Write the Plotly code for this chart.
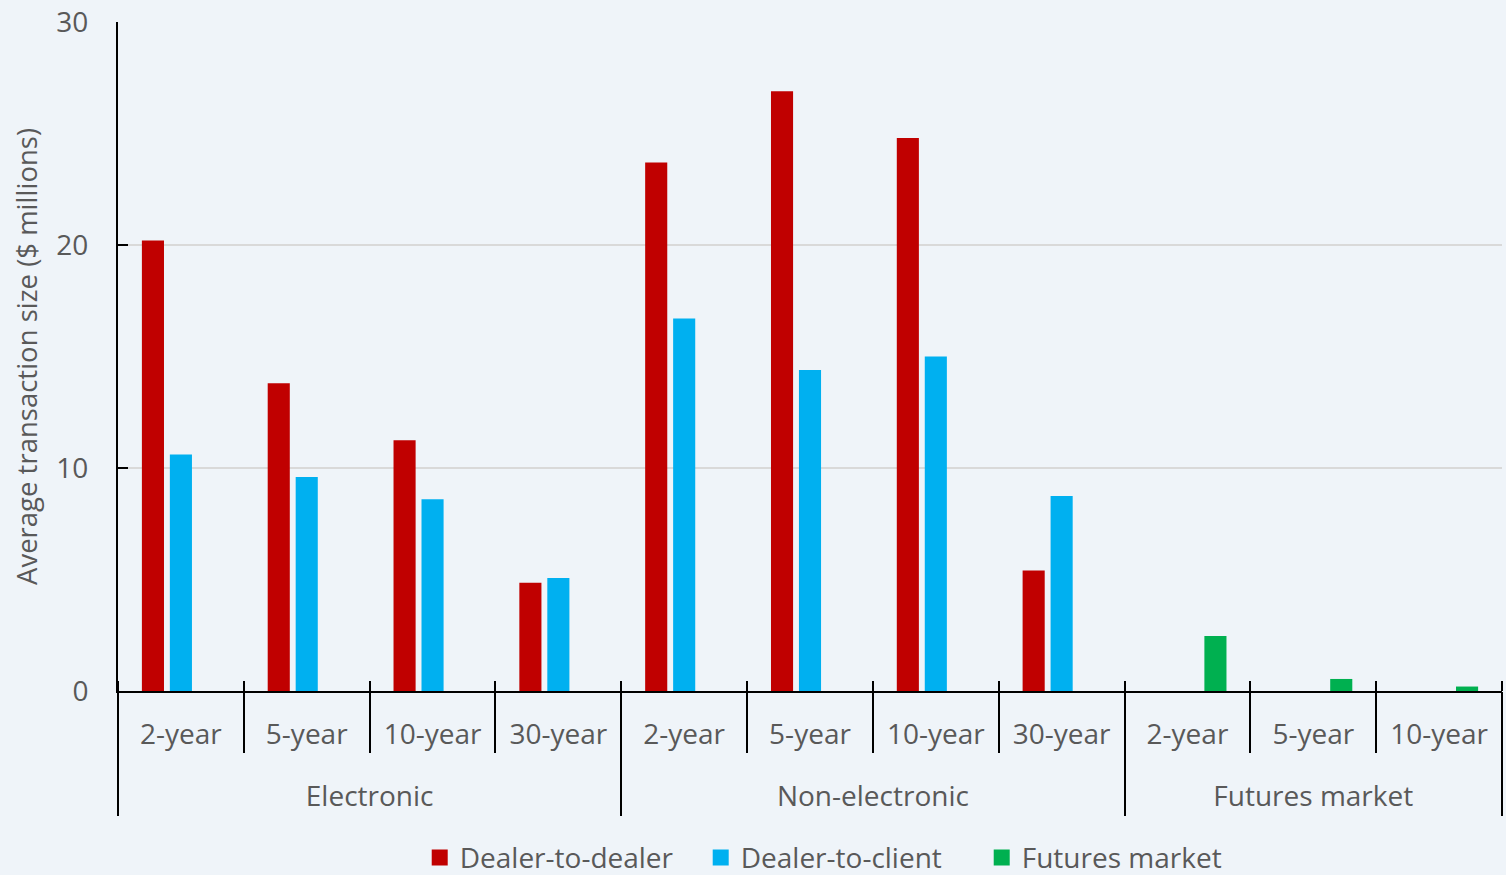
import plotly.graph_objects as go

groups = ["Electronic", "Non-electronic", "Futures market"]
group_sizes = [4, 4, 3]
maturities = ["2-year", "5-year", "10-year", "30-year",
              "2-year", "5-year", "10-year", "30-year",
              "2-year", "5-year", "10-year"]
dealer_to_dealer = [20.2, 13.8, 11.25, 4.85, 23.7, 26.9, 24.8, 5.4, None, None, None]
dealer_to_client = [10.6, 9.6, 8.6, 5.07, 16.7, 14.4, 15.0, 8.74, None, None, None]
futures_market = [None] * 8 + [2.47, 0.54, 0.2]

colors = {"Dealer-to-dealer": "#c00000", "Dealer-to-client": "#00b0f0", "Futures market": "#00b050"}
font_family = "Open Sans, Noto Sans, sans-serif"
text_color = "#595959"
bg = "#eff4f9"

n = len(maturities)
xpos = list(range(n))
all_bounds = [i - 0.5 for i in range(n + 1)]
group_bounds = [-0.5]
group_centers = []
start = 0
for s in group_sizes:
    group_centers.append(start + (s - 1) / 2)
    start += s
    group_bounds.append(start - 0.5)
inner_bounds = [b for b in all_bounds if b not in group_bounds]
xrange = [-0.5, n - 0.5]

fig = go.Figure()
series = [("Dealer-to-dealer", dealer_to_dealer),
          ("Dealer-to-client", dealer_to_client),
          ("Futures market", futures_market)]
for name, vals in series:
    fig.add_trace(go.Bar(x=xpos, y=vals, name=name, showlegend=False,
                         marker=dict(color=colors[name], line=dict(width=0))))
# legend entries with square markers
for name, _ in series:
    fig.add_trace(go.Scatter(x=[None], y=[None], name=name, mode="markers",
                             marker=dict(symbol="square", size=16, color=colors[name]),
                             hoverinfo="skip"))

# invisible helper traces to activate overlay axes
for ax in ["x2", "x3"]:
    fig.add_trace(go.Scatter(x=[xrange[0]], y=[0], xaxis=ax, mode="markers",
                             marker=dict(opacity=0), showlegend=False, hoverinfo="skip"))

fig.update_layout(
    width=1506, height=875,
    paper_bgcolor=bg, plot_bgcolor=bg,
    barmode="group", bargap=0.333, bargroupgap=0.21,
    margin=dict(l=118, r=4, t=22, b=184, autoexpand=False),
    font=dict(family=font_family, color=text_color, size=28),
    showlegend=True,
    legend=dict(orientation="h", x=0.218, xanchor="left", y=-0.212, yanchor="top",
                font=dict(size=28, color=text_color), traceorder="normal",
                itemwidth=30, entrywidth=236, entrywidthmode="pixels",
                bgcolor="rgba(0,0,0,0)"),
    xaxis=dict(
        range=xrange, tickmode="array", tickvals=xpos, ticktext=maturities,
        ticks="", showline=True, linecolor="black", linewidth=2, showgrid=False,
        zeroline=False, automargin=False,
        tickfont=dict(size=28, color=text_color), ticklabelstandoff=17,
        minor=dict(tickmode="array", tickvals=all_bounds, ticks="inside", ticklen=10,
                   tickcolor="black", tickwidth=2, showgrid=False),
    ),
    xaxis2=dict(
        overlaying="x", side="bottom", range=xrange, tickmode="array",
        tickvals=group_bounds, ticks="outside", ticklen=124, tickcolor="black", tickwidth=2,
        showticklabels=False, showgrid=False, zeroline=False, showline=False, automargin=False,
        minor=dict(tickmode="array", tickvals=inner_bounds, ticks="outside", ticklen=61,
                   tickcolor="black", tickwidth=2, showgrid=False),
    ),
    xaxis3=dict(
        overlaying="x", side="bottom", range=xrange, tickmode="array",
        tickvals=group_centers, ticktext=groups, ticks="", showgrid=False,
        zeroline=False, showline=False, automargin=False,
        tickfont=dict(size=28, color=text_color), ticklabelstandoff=86,
    ),
    yaxis=dict(
        range=[0, 30], dtick=10, showline=True, linecolor="black", linewidth=2,
        ticks="inside", ticklen=10, tickcolor="black", tickwidth=2,
        showgrid=True, gridcolor="#d9d9d9", gridwidth=2, zeroline=False, automargin=False,
        tickfont=dict(size=28, color=text_color), ticklabelstandoff=22,
        title=dict(text="Average transaction size ($ millions)",
                   font=dict(size=27.5, color=text_color), standoff=11),
    ),
)

fig.write_html("out.html", config={"displayModeBar": False},
               post_script="document.body.style.margin='0';")
